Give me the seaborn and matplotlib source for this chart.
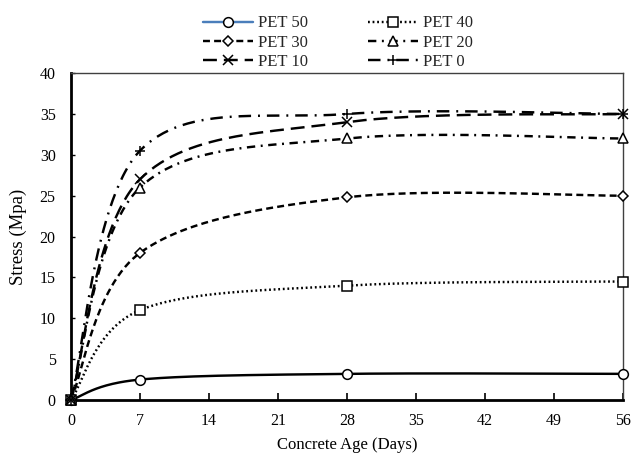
import numpy as np
import pandas as pd
import matplotlib
matplotlib.use("Agg")
import matplotlib.pyplot as plt
from matplotlib.lines import Line2D
import seaborn as sns

# Compressive strength of concrete with PET replacement
age_days = [0, 7, 28, 56]
pet_50 = [0, 2.5, 3.2, 3.2]
pet_40 = [0, 11.0, 14.0, 14.5]
pet_30 = [0, 18.0, 24.8, 25.0]
pet_20 = [0, 26.0, 32.0, 32.0]
pet_10 = [0, 27.0, 34.0, 35.0]
pet_0 = [0, 30.5, 35.0, 35.0]

series_names = ["PET 50", "PET 40", "PET 30", "PET 20", "PET 10", "PET 0"]
series_values = [pet_50, pet_40, pet_30, pet_20, pet_10, pet_0]

x_ticks = [0, 7, 14, 21, 28, 35, 42, 49, 56]
y_ticks = [0, 5, 10, 15, 20, 25, 30, 35, 40]

styles = {
    "PET 50": dict(ls="-", marker="o"),
    "PET 40": dict(ls=(0, (1.3, 2.0)), marker="s"),
    "PET 30": dict(ls=(0, (5, 3)), marker="D"),
    "PET 20": dict(ls=(0, (6, 4, 1.4, 4)), marker="^"),
    "PET 10": dict(ls=(0, (10, 5)), marker="x"),
    "PET 0": dict(ls=(0, (9, 5, 1.4, 5)), marker="+"),
}
marker_sizes = {"o": 7, "s": 7, "D": 5.5, "^": 7, "x": 7, "+": 7.5}


def smooth_curve(xs, ys, xspan=56.0, yspan=40.0, n=60):
    """Bezier smoothing through the points (control points at 1/6 of the chord)."""
    p = np.column_stack([np.asarray(xs, float) / xspan, np.asarray(ys, float) / yspan * 0.59])
    ext = np.vstack([p[0], p, p[-1]])
    t = np.linspace(0, 1, n)[:, None]
    pts = []
    for i in range(len(p) - 1):
        a, b = ext[i + 1], ext[i + 2]
        c1 = a + (ext[i + 2] - ext[i]) / 6.0
        c2 = b - (ext[i + 3] - ext[i + 1]) / 6.0
        seg = ((1 - t) ** 3) * a + 3 * ((1 - t) ** 2) * t * c1 + 3 * (1 - t) * t ** 2 * c2 + t ** 3 * b
        pts.append(seg if i == 0 else seg[1:])
    pts = np.vstack(pts)
    return pts[:, 0] * xspan, pts[:, 1] / 0.59 * yspan


sns.set_theme(style="white")
plt.rcParams["font.family"] = ["Liberation Serif", "DejaVu Serif"]
plt.rcParams["lines.scale_dashes"] = False

fig = plt.figure(figsize=(6.32, 4.57), dpi=100)
ax = fig.add_axes([0.1123, 0.1247, 0.8734, 0.7153])

for name, vals in zip(series_names, series_values):
    cx, cy = smooth_curve(age_days, vals)
    curve = pd.DataFrame({"age": cx, "stress": cy})
    sns.lineplot(data=curve, x="age", y="stress", ax=ax, color="black",
                 linewidth=1.75, linestyle=styles[name]["ls"], sort=False,
                 estimator=None)
    pts = pd.DataFrame({"age": age_days, "stress": vals})
    m = styles[name]["marker"]
    ax.plot(pts["age"], pts["stress"], linestyle="none", marker=m,
            markersize=marker_sizes[m], markerfacecolor="white" if m not in "x+" else "black",
            markeredgecolor="black", markeredgewidth=1.1, clip_on=False, zorder=5)

ax.set_xlim(0, 56)
ax.set_ylim(0, 40)
ax.set_xticks(x_ticks)
ax.set_yticks(y_ticks)
ax.tick_params(axis="x", direction="in", length=5, width=1.2, color="black",
               bottom=True, labelsize=11.5, pad=9, labelcolor="black")
ax.tick_params(axis="y", direction="in", length=3, width=1.0, color="black",
               left=True, labelsize=11.5, pad=11, labelcolor="black")
ax.set_xlabel("Concrete Age (Days)", fontsize=12, color="black", labelpad=6)
ax.set_ylabel("Stress (Mpa)", fontsize=13.5, color="black", labelpad=9)

for side in ["left", "bottom"]:
    ax.spines[side].set_color("black")
    ax.spines[side].set_linewidth(2.0)
for side in ["top", "right"]:
    ax.spines[side].set_color("#404040")
    ax.spines[side].set_linewidth(1.0)
ax.grid(False)

handles = []
for name in series_names:
    m = styles[name]["marker"]
    handles.append(Line2D([], [], color="#4a7ebb" if name == "PET 50" else "black",
                          linewidth=1.75, linestyle=styles[name]["ls"], marker=m,
                          markersize=marker_sizes[m],
                          markerfacecolor="white" if m not in "x+" else "black",
                          markeredgecolor="black", markeredgewidth=1.1))
order = [0, 2, 4, 1, 3, 5]
fig.legend([handles[i] for i in order], [series_names[i] for i in order],
           ncol=2, loc="upper left", bbox_to_anchor=(0.305, 0.988), frameon=False,
           fontsize=12, handlelength=3.0, handletextpad=0.3,
           columnspacing=3.6, labelspacing=0.2, borderaxespad=0.2)

fig.savefig("out.png", dpi=100, facecolor="white")
